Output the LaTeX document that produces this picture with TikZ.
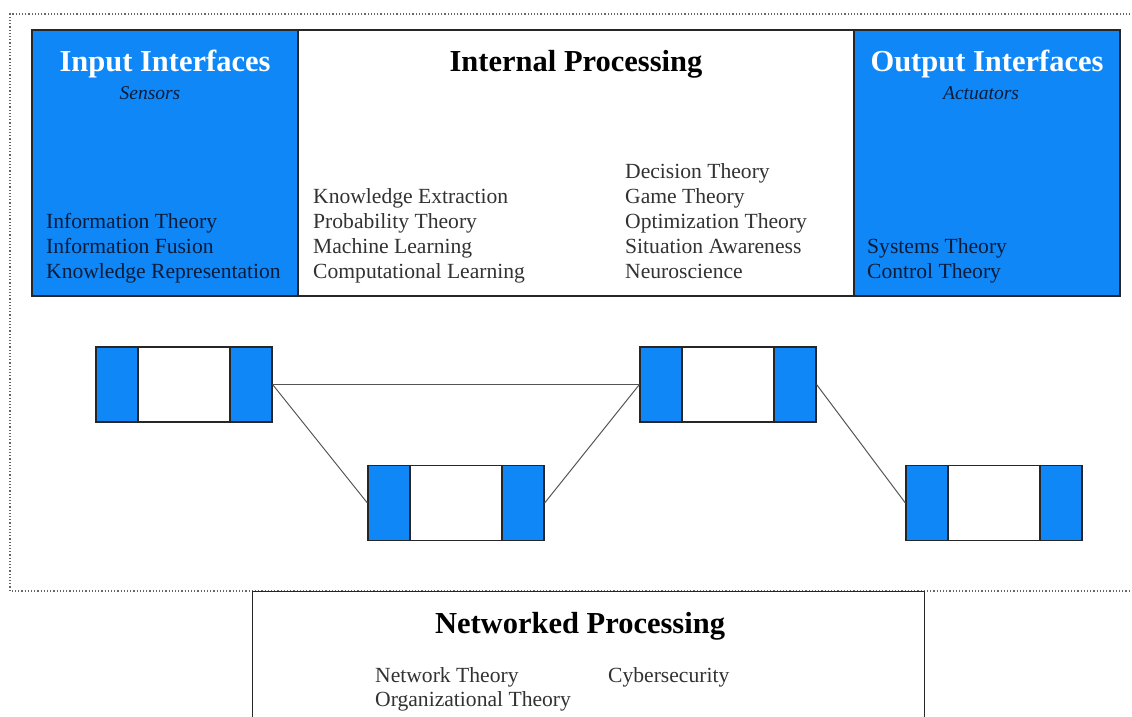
\documentclass[tikz,border=0pt]{standalone}
\usepackage{fontspec}
\setmainfont{Liberation Serif}
\definecolor{ifblue}{RGB}{16,135,247}
\definecolor{ifnavy}{RGB}{8,28,58}
\definecolor{procgray}{RGB}{50,50,50}
\definecolor{wiregray}{RGB}{85,85,85}

\begin{document}
\begin{tikzpicture}[x=1pt, y=-1pt,
	panel/.style={draw=black!85, line width=1.2pt, minimum height=266pt, inner sep=0pt},
	interface panel/.style={panel, fill=ifblue, minimum width=266pt},
	heading/.style={font=\fontsize{30.5}{36}\selectfont\bfseries, anchor=base},
	subheading/.style={font=\fontsize{19.5}{23}\selectfont\itshape, text=ifnavy, anchor=base},
	topic/.style={font=\fontsize{21.6}{25}\selectfont, anchor=base west, inner sep=0pt},
	agent/.style={draw=black!85, line width=1.2pt, fill=white, inner sep=0pt,
		minimum width=176pt, minimum height=75pt,
		path picture={
			\fill[ifblue] (path picture bounding box.south west) rectangle ([xshift=42pt]path picture bounding box.north west);
			\fill[ifblue] ([xshift=-42pt]path picture bounding box.south east) rectangle (path picture bounding box.north east);
			\draw[black!85, line width=1.2pt] ([xshift=42pt]path picture bounding box.south west) -- ([xshift=42pt]path picture bounding box.north west);
			\draw[black!85, line width=1.2pt] ([xshift=-42pt]path picture bounding box.south east) -- ([xshift=-42pt]path picture bounding box.north east);
		}}]
	\useasboundingbox (0,0) rectangle (1132,716);
	\clip (0,0) rectangle (1132,716);

	% agent frame
	\draw[black!60, line width=1.2pt, dash pattern=on 1.2pt off 2pt] (1140,14) -- (10,14) -- (10,591) -- (1140,591);

	% processing panels
	\node[panel, fill=white, minimum width=556pt] (internal) at (576,163) {};
	\node[interface panel] (input) at (165,163) {};
	\node[interface panel] (output) at (987,163) {};

	% input interfaces
	\node[heading, text=white] (input title) at (165,71) {Input Interfaces};
	\node[subheading] (input sub) at (150,99) {Sensors};
	\foreach \y/\topic [count=\i] in {228/Information Theory, 253/Information Fusion, 278/Knowledge Representation}
		\node[topic, text=ifnavy] (in\i) at (46,\y) {\topic};

	% internal processing
	\node[heading, text=black] (internal title) at (576,71) {Internal Processing};
	\foreach \y/\topic [count=\i] in {203/Knowledge Extraction, 228/Probability Theory, 253/Machine Learning, 278/Computational Learning}
		\node[topic, text=procgray] (pl\i) at (313,\y) {\topic};
	\foreach \y/\topic [count=\i] in {178/Decision Theory, 203/Game Theory, 228/Optimization Theory, 253/Situation Awareness, 278/Neuroscience}
		\node[topic, text=procgray] (pr\i) at (625,\y) {\topic};

	% output interfaces
	\node[heading, text=white] (output title) at (987,71) {Output Interfaces};
	\node[subheading] (output sub) at (981,99) {Actuators};
	\foreach \y/\topic [count=\i] in {253/Systems Theory, 278/Control Theory}
		\node[topic, text=ifnavy] (out\i) at (867,\y) {\topic};

	% agents and links
	\node[agent] (a1) at (184,384.5) {};
	\node[agent] (a2) at (456,503) {};
	\node[agent] (a3) at (728,384.5) {};
	\node[agent] (a4) at (994,503) {};
	\foreach \from/\to in {a1/a3, a1/a2, a2/a3, a3/a4}
		\draw[wiregray, line width=1pt] (\from.east) -- (\to.west);

	% networked processing
	\node[draw=black!85, line width=1.2pt, fill=white, minimum width=672pt, minimum height=150pt, anchor=north west] (net) at (252,591) {};
	\node[heading, text=black] (net title) at (580,633) {Networked Processing};
	\node[topic, text=procgray] (nt1) at (375,682) {Network Theory};
	\node[topic, text=procgray] (nt2) at (608,682) {Cybersecurity};
	\node[topic, text=procgray] (nt3) at (375,706) {Organizational Theory};
\end{tikzpicture}
\end{document}
